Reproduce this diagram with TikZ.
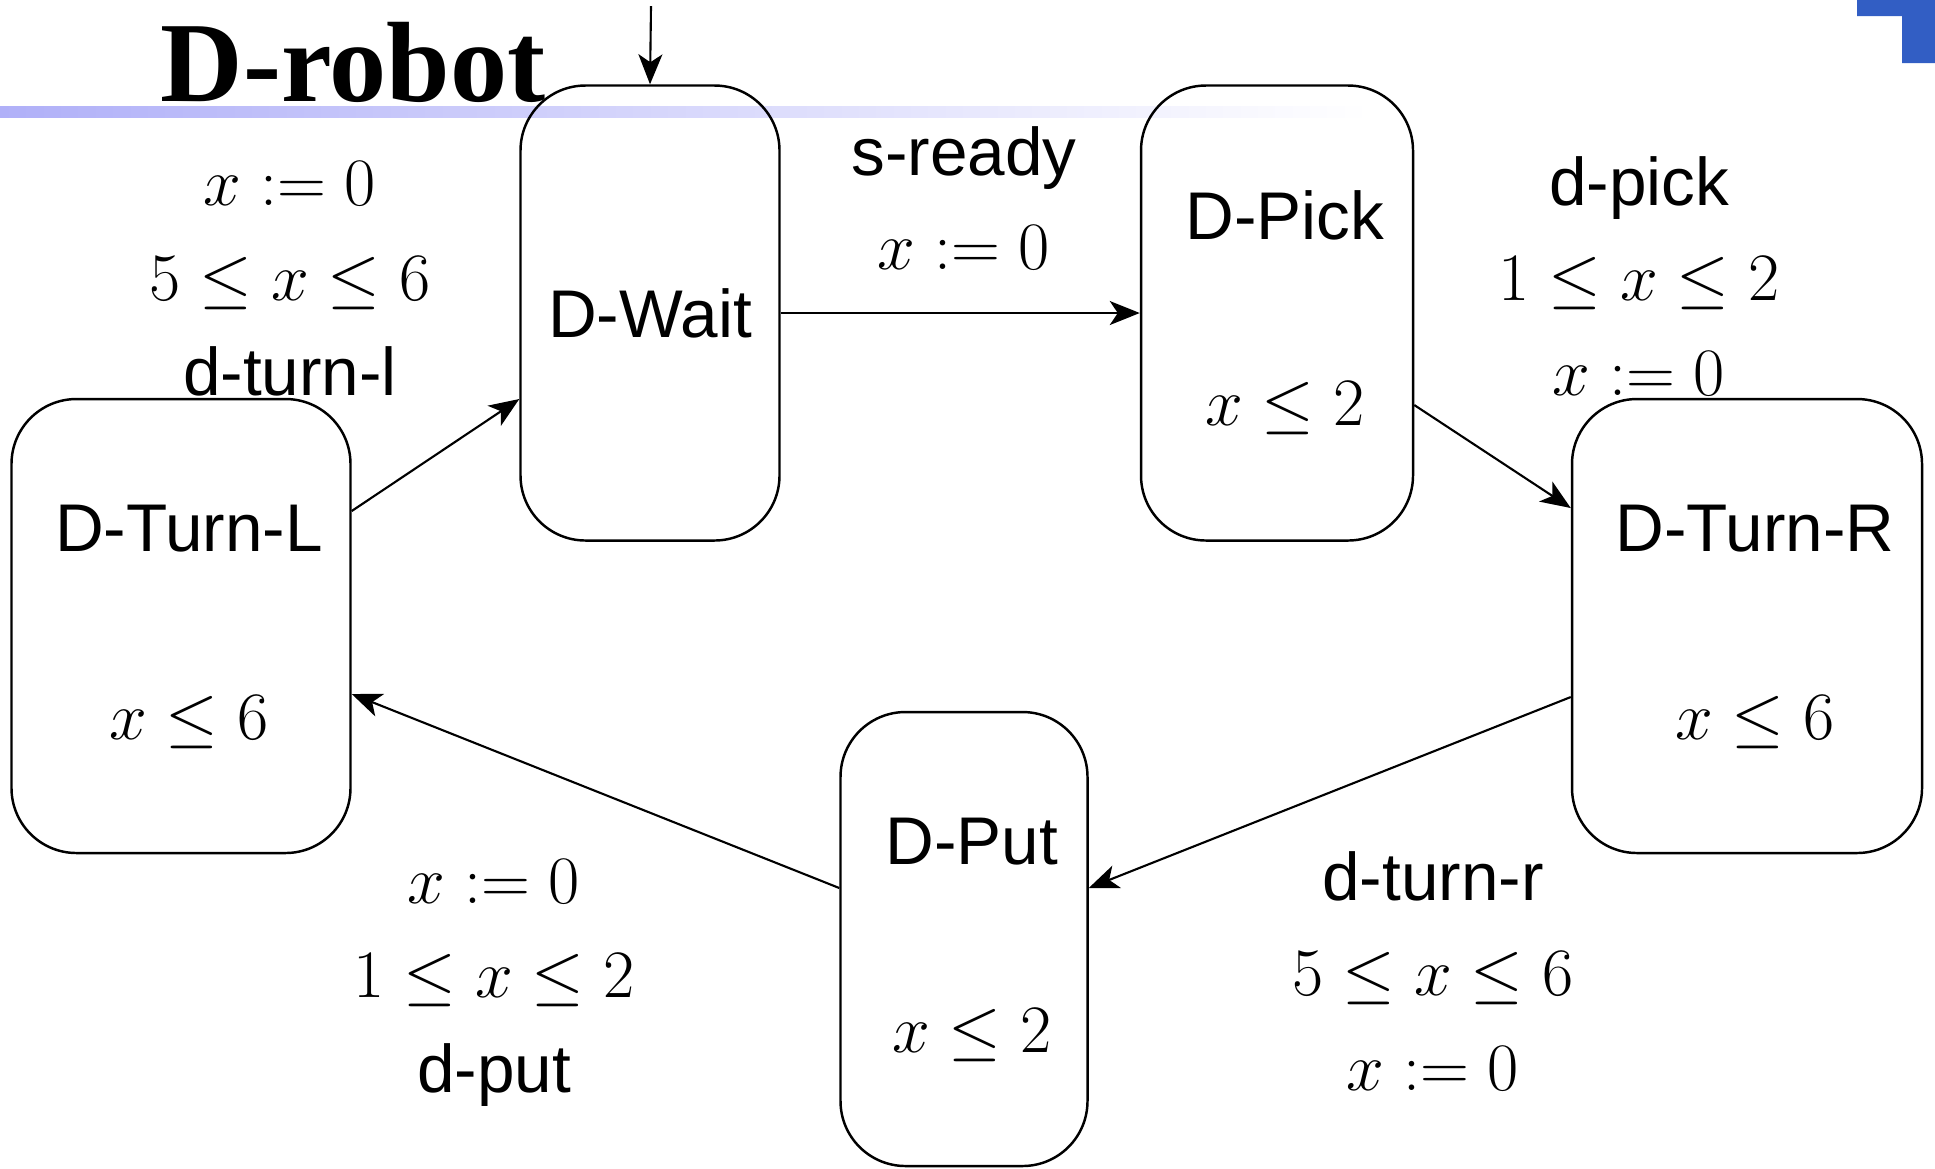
\RequirePackage{fix-cm}
\documentclass[tikz,border=0pt]{standalone}
\usepackage{amsmath,amssymb}
\usepackage{fontspec}
\setmainfont{Liberation Serif}
\setsansfont{Liberation Sans}
\usepackage{tikz}
\usetikzlibrary{arrows.meta, calc}
\definecolor{rulelav}{RGB}{176,176,248}
\definecolor{cornerblue}{RGB}{50,94,196}
% guards, resets and invariants
\newcommand{\mth}[1]{{\fontsize{19.3}{27}\selectfont$#1$}}

\begin{document}
\begin{tikzpicture}[
    every node/.style={font=\sffamily\fontsize{19.2}{27}\selectfont},
    loc/.style={rectangle, draw, rounded corners=0.65cm, line width=0.7pt, inner sep=0pt},
    lbl/.style={align=center, inner sep=0pt},
    arrow/.style={-{Stealth[length=3mm, width=2.4mm, inset=0.8mm]}, line width=0.6pt}
]
\useasboundingbox (0,0) rectangle (19.35,-11.68);
% Slide header
\shade[left color=rulelav, right color=white] (0,-1.06) rectangle (13.7,-1.17);
\fill[cornerblue] (18.57,0) -- (19.35,0) -- (19.35,-0.63) -- (19.02,-0.63) -- (19.02,-0.16) -- (18.57,-0.16) -- cycle;
\node[font=\rmfamily\bfseries\fontsize{32.5}{36}\selectfont, anchor=base west, inner sep=0pt] (title) at (1.60,-1.01) {D-robot};
% Locations
\node[loc, minimum width=2.59cm, minimum height=4.55cm] (wait) at (6.50,-3.13) {D-Wait};
\node[loc, minimum width=2.72cm, minimum height=4.55cm] (pick) at (12.77,-3.13) {};
\node[loc, minimum width=3.39cm, minimum height=4.54cm] (turnl) at (1.81,-6.26) {};
\node[loc, minimum width=3.50cm, minimum height=4.54cm] (turnr) at (17.47,-6.26) {};
\node[loc, minimum width=2.47cm, minimum height=4.54cm] (put) at (9.64,-9.39) {};
% Names and invariants
\node (pickname) at ($(pick.north)+(0.08,-1.31)$) {D-Pick};
\node (pickinv) at ($(pick.north)+(0.08,-3.24)$) {\mth{x \le 2}};
\node (turnlname) at ($(turnl.north)+(0.08,-1.31)$) {D-Turn-L};
\node (turnlinv) at ($(turnl.north)+(0.08,-3.24)$) {\mth{x \le 6}};
\node (turnrname) at ($(turnr.north)+(0.08,-1.31)$) {D-Turn-R};
\node (turnrinv) at ($(turnr.north)+(0.08,-3.24)$) {\mth{x \le 6}};
\node (putname) at ($(put.north)+(0.08,-1.31)$) {D-Put};
\node (putinv) at ($(put.north)+(0.08,-3.24)$) {\mth{x \le 2}};
% Edges
\coordinate (init) at (6.51,-0.06);
\draw[arrow] (init) -- (wait.north);
\draw[arrow] (wait.east) -- (pick.west);
\draw[arrow] ([yshift=-0.92cm]pick.east) -- ([yshift=1.18cm]turnr.west);
\draw[arrow] ([yshift=-0.71cm]turnr.west) -- ([yshift=0.51cm]put.east);
\draw[arrow] ([yshift=0.51cm]put.west) -- ([yshift=-0.68cm]turnl.east);
\draw[arrow] ([yshift=1.15cm]turnl.east) -- ([yshift=-0.86cm]wait.west);
% Edge labels
\node[lbl] (readylbl) at (9.64,-1.98) {s-ready\\\mth{x := 0}};
\node[lbl] (picklbl) at (16.39,-2.76) {d-pick\\\mth{1 \le x \le 2}\\\mth{x := 0}};
\node[lbl] (turnrlbl) at (14.33,-9.71) {d-turn-r\\\mth{5 \le x \le 6}\\\mth{x := 0}};
\node[lbl] (putlbl) at (4.94,-9.83) {\mth{x := 0}\\\mth{1 \le x \le 2}\\d-put};
\node[lbl] (turnllbl) at (2.90,-2.79) {\mth{x := 0}\\\mth{5 \le x \le 6}\\d-turn-l};
\end{tikzpicture}
\end{document}
